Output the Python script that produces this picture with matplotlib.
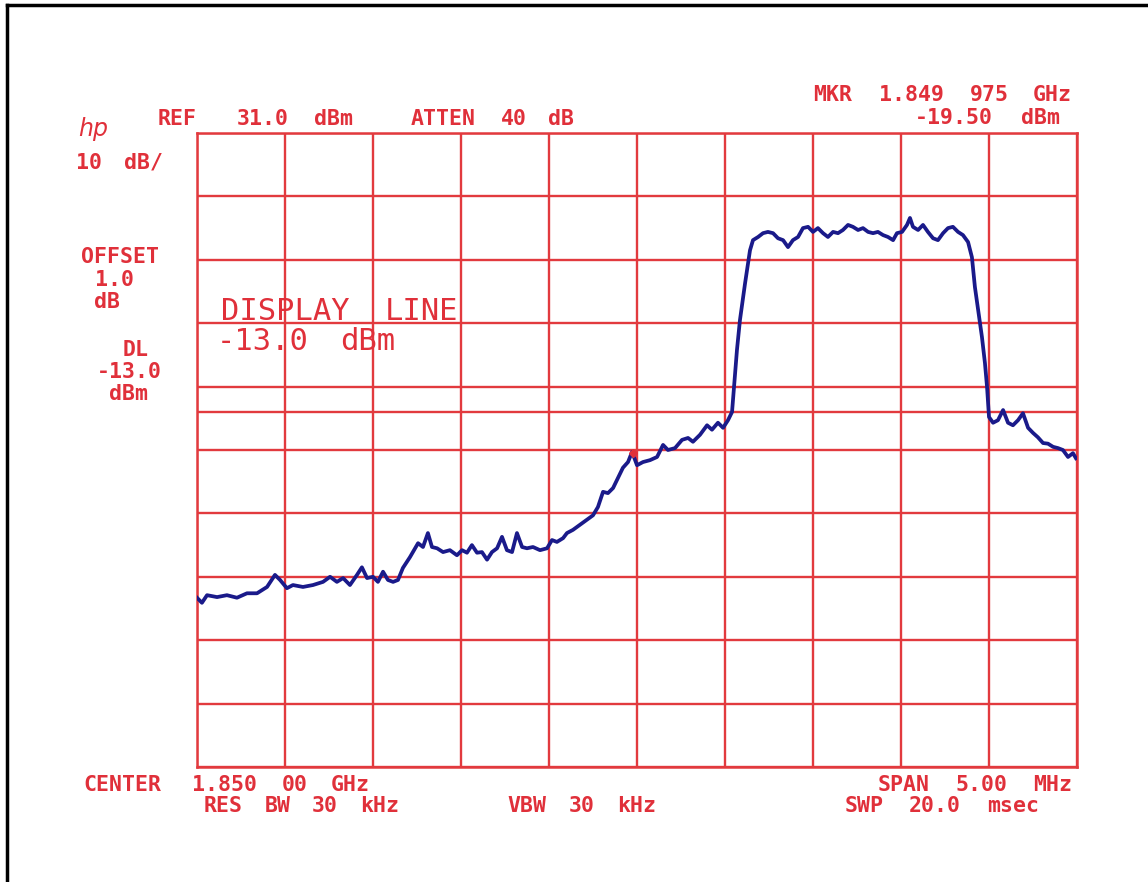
import matplotlib
matplotlib.use("Agg")
import matplotlib.pyplot as plt
import numpy as np
from matplotlib.lines import Line2D

# ---------------- data ----------------
center_mhz = 1850.0
span_mhz = 5.0
ref_dbm = 31.0
db_per_div = 10.0
display_line_dbm = -13.0
marker_freq_mhz = 1849.975
marker_dbm = -19.50

# frequency offsets from center (MHz) and measured trace level (dBm)
trace_offset_mhz = [
    -2.500, -2.472, -2.443, -2.386, -2.330, -2.273, -2.216, -2.159, -2.102, -2.057,
    -2.028, -1.989, -1.955, -1.898, -1.841, -1.784, -1.744, -1.705, -1.670, -1.631,
    -1.591, -1.563, -1.534, -1.500, -1.472, -1.443, -1.415, -1.386, -1.358, -1.330,
    -1.290, -1.244, -1.216, -1.188, -1.165, -1.136, -1.102, -1.063, -1.023, -0.994,
    -0.966, -0.938, -0.909, -0.881, -0.852, -0.824, -0.795, -0.767, -0.739, -0.710,
    -0.682, -0.653, -0.625, -0.591, -0.551, -0.511, -0.483, -0.455, -0.420, -0.398,
    -0.364, -0.324, -0.284, -0.250, -0.222, -0.193, -0.165, -0.136, -0.108, -0.080,
    -0.051, -0.028, 0.000, 0.034, 0.074, 0.114, 0.148, 0.176, 0.216, 0.256,
    0.290, 0.318, 0.358, 0.398, 0.426, 0.460, 0.489, 0.517, 0.540, 0.568,
    0.585, 0.614, 0.642, 0.659, 0.688, 0.716, 0.744, 0.773, 0.801, 0.830,
    0.858, 0.886, 0.915, 0.943, 0.972, 1.000, 1.028, 1.057, 1.085, 1.114,
    1.142, 1.170, 1.199, 1.227, 1.256, 1.284, 1.313, 1.341, 1.369, 1.398,
    1.426, 1.455, 1.477, 1.506, 1.534, 1.551, 1.568, 1.597, 1.625, 1.653,
    1.682, 1.710, 1.739, 1.767, 1.795, 1.824, 1.852, 1.881, 1.903, 1.920,
    1.938, 1.960, 1.977, 1.989, 2.000, 2.023, 2.051, 2.080, 2.108, 2.136,
    2.165, 2.193, 2.222, 2.250, 2.278, 2.307, 2.335, 2.364, 2.392, 2.420,
    2.449, 2.477, 2.494,
]
trace_dbm = [
    -42.3, -43.1, -41.9, -42.2, -41.9, -42.3, -41.6, -41.6, -40.6, -38.7,
    -39.5, -40.8, -40.3, -40.6, -40.3, -39.8, -39.0, -39.8, -39.2, -40.3,
    -38.7, -37.5, -39.2, -39.0, -39.8, -38.2, -39.5, -39.8, -39.5, -37.6,
    -35.9, -33.7, -34.3, -32.1, -34.3, -34.5, -35.1, -34.8, -35.6, -34.8,
    -35.2, -34.0, -35.2, -35.1, -36.3, -35.1, -34.5, -32.7, -34.8, -35.1,
    -32.1, -34.3, -34.5, -34.3, -34.8, -34.5, -33.2, -33.5, -32.9, -32.1,
    -31.6, -30.8, -30.0, -29.3, -28.0, -25.6, -25.8, -25.0, -23.4, -21.8,
    -20.9, -19.3, -21.4, -20.9, -20.6, -20.1, -18.2, -19.0, -18.7, -17.4,
    -17.1, -17.7, -16.6, -15.1, -15.8, -14.7, -15.5, -14.3, -13.0, -3.2,
    1.5, 7.3, 12.5, 14.1, 14.6, 15.2, 15.4, 15.2, 14.4, 14.1,
    13.0, 14.1, 14.6, 16.0, 16.2, 15.4, 16.0, 15.2, 14.6, 15.4,
    15.2, 15.7, 16.5, 16.2, 15.7, 16.0, 15.4, 15.2, 15.4, 14.9,
    14.6, 14.1, 15.2, 15.4, 16.5, 17.6, 16.2, 15.7, 16.5, 15.4,
    14.4, 14.1, 15.2, 16.0, 16.2, 15.4, 14.9, 13.8, 11.4, 6.7,
    3.1, -1.2, -5.3, -9.1, -13.8, -14.7, -14.3, -12.7, -14.7, -15.1,
    -14.3, -13.2, -15.5, -16.3, -17.0, -17.9, -18.0, -18.5, -18.7, -19.0,
    -20.1, -19.5, -20.3,
]

hdr_ref = "REF  31.0 dBm   ATTEN 40 dB"
hdr_mkr = "MKR 1.849 975 GHz"
hdr_mkr_lvl = "-19.50 dBm"
side_labels = ["10 dB/", "OFFSET", "1.0", "dB", "DL", "-13.0", "dBm"]
dl_title = "DISPLAY LINE"
dl_value = "-13.0 dBm"
ftr_center = "CENTER 1.850 00 GHz"
ftr_span = "SPAN 5.00 MHz"
ftr_rbw = "RES BW 30 kHz"
ftr_vbw = "VBW 30 kHz"
ftr_swp = "SWP 20.0 msec"

# ---------------- style ----------------
RED = "#e0303a"
GRID = "#e23a3e"
BLUE = "#1a1a8a"
W, H = 1148, 882

fig = plt.figure(figsize=(W / 100, H / 100), dpi=100)
fig.patch.set_facecolor("white")

ax_l, ax_r, ax_t, ax_b = 197, 1077, 133, 767
ax = fig.add_axes([ax_l / W, 1 - ax_b / H, (ax_r - ax_l) / W, (ax_b - ax_t) / H])

f0 = center_mhz - span_mhz / 2
f1 = center_mhz + span_mhz / 2
bottom = ref_dbm - 10 * db_per_div
ax.set_xlim(f0, f1)
ax.set_ylim(bottom, ref_dbm)
ax.set_xticks(np.linspace(f0, f1, 11))
ax.set_yticks(np.linspace(bottom, ref_dbm, 11))
ax.tick_params(length=0, labelbottom=False, labelleft=False)
ax.grid(True, color=GRID, lw=1.7)
for s in ax.spines.values():
    s.set_color(GRID)
    s.set_linewidth(1.8)
ax.axhline(display_line_dbm, color=GRID, lw=1.7)

freqs = center_mhz + np.array(trace_offset_mhz)
ax.plot(freqs, trace_dbm, color=BLUE, lw=2.7, solid_joinstyle="round", zorder=5)
ax.plot([marker_freq_mhz], [marker_dbm], marker="D", ms=4, color=RED, zorder=6)

# ---------------- text ----------------
PITCH = 15.7
FS = 15.5


def px(x, y):
    return x / W, 1 - y / H


def hp_text(x_left, y, s, pitch=PITCH, size=FS, weight="bold", right=False):
    if right:
        x_left = x_left - len(s) * pitch
    idx = 0
    for word in s.split(" "):
        if word:
            cx = x_left + (idx + len(word) / 2) * pitch - pitch * 0.12
            fig.text(*px(cx, y), word, ha="center", va="center", color=RED,
                     fontsize=size, fontweight=weight, family="DejaVu Sans Mono")
        idx += len(word) + 1


hp_text(155, 119, hdr_ref)
hp_text(1078, 95, hdr_mkr, right=True)
hp_text(1066, 118, hdr_mkr_lvl, right=True)

side_pos = [(75, 163), (75, 257), (93, 280), (93, 302), (122, 350), (92, 372), (107, 394)]
for (x, y), s in zip(side_pos, side_labels):
    hp_text(x, y, s)

hp_text(214, 311, dl_title, pitch=21.0, size=22, weight="normal")
hp_text(213, 342, dl_value, pitch=21.0, size=22, weight="normal")

hp_text(77, 785, ftr_center)
hp_text(1078, 785, ftr_span, right=True)
hp_text(201, 806, ftr_rbw)
hp_text(505, 806, ftr_vbw)
hp_text(842, 806, ftr_swp)

fig.text(*px(93, 129), "hp", ha="center", va="center", color=RED, fontsize=17,
         fontstyle="italic", family="DejaVu Sans")

# page border (black)
fig.add_artist(Line2D([7 / W, 7 / W], [0, 1 - 5 / H], color="black", lw=2.5,
                      transform=fig.transFigure))
fig.add_artist(Line2D([7 / W, 1], [1 - 5 / H, 1 - 5 / H], color="black", lw=2.5,
                      transform=fig.transFigure))

fig.savefig("out.png", dpi=100, facecolor="white")
